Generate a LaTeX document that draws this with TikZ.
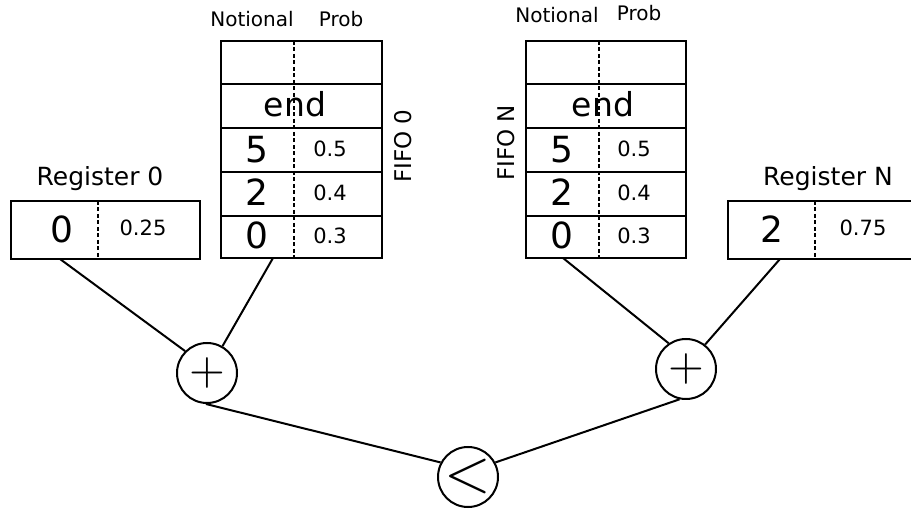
\documentclass[tikz,border=0pt]{standalone}
\usepackage{fontspec}
\setmainfont{DejaVu Sans}
\tikzset{
  boxline/.style={draw, line width=2pt},
  divider/.style={line width=1.3pt, dash pattern=on 4pt off 2.5pt},
  big/.style={font=\fontsize{36}{36}\selectfont, anchor=base, inner sep=0pt},
  endtxt/.style={font=\fontsize{33}{33}\selectfont, anchor=base, inner sep=0pt},
  small/.style={font=\fontsize{21}{21}\selectfont, anchor=base, inner sep=0pt},
  lbl/.style={font=\fontsize{20}{20}\selectfont, anchor=base, inner sep=0pt},
  reglbl/.style={font=\fontsize{25}{25}\selectfont, anchor=base, inner sep=0pt},
  fifolbl/.style={font=\fontsize{23}{23}\selectfont, rotate=90, inner sep=0pt},
  op/.style={draw, circle, minimum size=60pt, inner sep=0pt, line width=2pt},
  wire/.style={line width=2pt}
}
\begin{document}
\begin{tikzpicture}[x=1pt,y=-1pt]
\useasboundingbox (0,0) rectangle (911,510);
\clip (0,0) rectangle (911,510);

% ---------- FIFO 0 ----------
\draw[boxline] (221,41) rectangle (382,258);
\foreach \yy in {84,128,172,216} \draw[boxline] (221,\yy) -- (382,\yy);
\draw[divider] (294,41) -- (294,258);
\node[lbl] (n0) at (252,27) {Notional};
\node[lbl] (p0) at (341,27) {Prob};
\node[endtxt] (e0) at (295,117) {end};
\node[big] (a0) at (257,163) {5};
\node[big] (b0) at (257,206) {2};
\node[big] (c0) at (257,249) {0};
\node[small] (pa0) at (330,157) {0.5};
\node[small] (pb0) at (330,201) {0.4};
\node[small] (pc0) at (330,244) {0.3};
\node[fifolbl] (fl0) at (403,146) {FIFO 0};
\coordinate (f0b) at (273,258);

% ---------- FIFO N ----------
\draw[boxline] (526,41) rectangle (686,258);
\foreach \yy in {84,128,172,216} \draw[boxline] (526,\yy) -- (686,\yy);
\draw[divider] (599,41) -- (599,258);
\node[lbl] (nN) at (557,23) {Notional};
\node[lbl] (pN) at (639,21) {Prob};
\node[endtxt] (eN) at (603,117) {end};
\node[big] (aN) at (562,163) {5};
\node[big] (bN) at (562,206) {2};
\node[big] (cN) at (562,249) {0};
\node[small] (paN) at (634,157) {0.5};
\node[small] (pbN) at (634,201) {0.4};
\node[small] (pcN) at (634,244) {0.3};
\node[fifolbl] (flN) at (506,143) {FIFO N};
\coordinate (fNb) at (563,258);

% ---------- Register 0 ----------
\draw[boxline] (11,201) rectangle (200,259);
\draw[divider] (98,201) -- (98,259);
\node[reglbl] (rl0) at (100,186) {Register 0};
\node[big] (rv0) at (62,243) {0};
\node[small] (rp0) at (143,236) {0.25};
\coordinate (r0b) at (60,259);

% ---------- Register N ----------
\draw[boxline] (728,201) rectangle (917,259);
\draw[divider] (815,201) -- (815,259);
\node[reglbl] (rlN) at (828,186) {Register N};
\node[big] (rvN) at (772,243) {2};
\node[small] (rpN) at (863,236) {0.75};
\coordinate (rNb) at (780,259);

% ---------- operators ----------
\node[op] (plus0) at (207,373) {\scalebox{4.6}{$+$}};
\node[op] (plusN) at (686,369) {\scalebox{4.6}{$+$}};
\node[op] (less) at (468,477) {\scalebox{6}{$<$}};

% ---------- wires ----------
\draw[wire] (r0b) -- (plus0.135);
\draw[wire] (f0b) -- (plus0.60);
\draw[wire] (fNb) -- (plusN.124);
\draw[wire] (rNb) -- (plusN.52);
\draw[wire] (plus0.268) -- (less.152);
\draw[wire] (plusN.258) -- (less.28);
\end{tikzpicture}
\end{document}
